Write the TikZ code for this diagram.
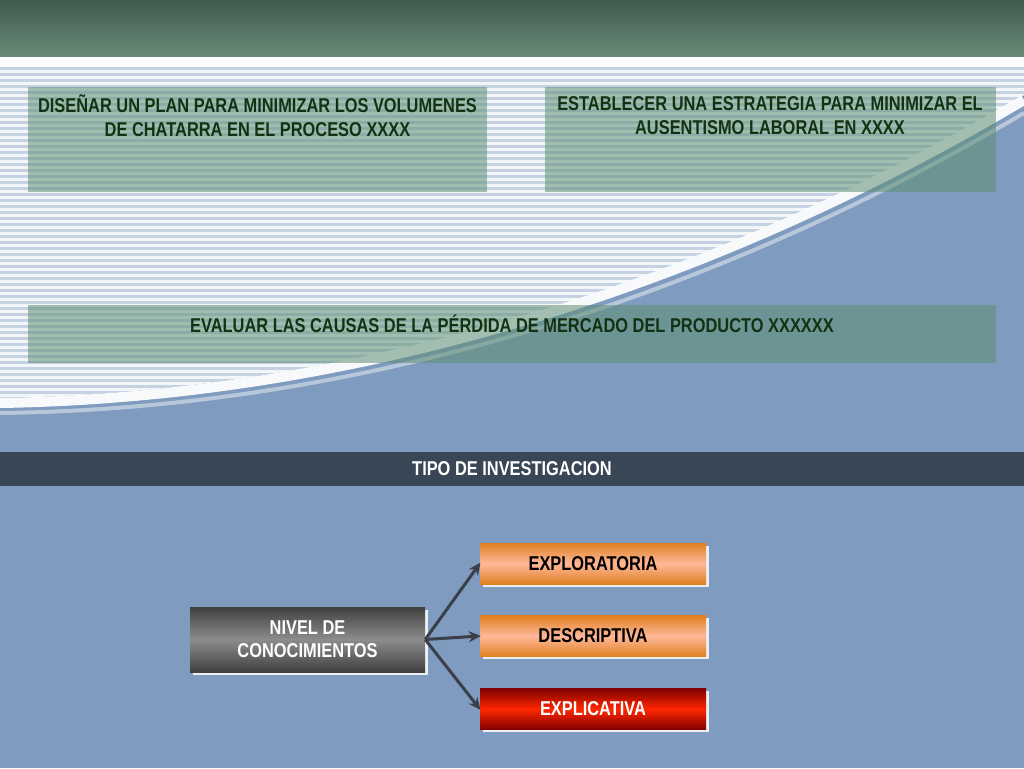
\documentclass[tikz,border=0pt]{standalone}
\usepackage{fontspec}
\setmainfont{Liberation Sans}[FakeStretch=0.82]
\usetikzlibrary{arrows.meta}
\definecolor{bg}{HTML}{7F9BBF}
\definecolor{gtxt}{HTML}{123212}
\definecolor{gb}{HTML}{5E8F73}
\definecolor{arrc}{HTML}{3A3F48}
\definecolor{topa}{HTML}{3F5A4E}
\definecolor{topb}{HTML}{6B8B78}
\tikzset{
 gbox/.style={fill=gb, fill opacity=0.55, draw=none},
 gtext/.style={text=gtxt, font=\bfseries\fontsize{20}{24}\selectfont, align=center, text opacity=1},
 obox/.style={minimum width=226pt, minimum height=41pt, inner sep=0pt, font=\bfseries\fontsize{20}{23}\selectfont},
 arr/.style={-{Stealth[length=12pt,width=11pt]}, line width=3pt, draw=arrc, shorten >=-1pt}
}
\begin{document}
\begin{tikzpicture}[x=1pt,y=-1pt]
\useasboundingbox (0,0) rectangle (1024,768);
\fill[bg] (0,0) rectangle (1024,768);
\shade[top color=topa, bottom color=topb] (0,0) rectangle (1024,57);
\fill[white] (0,57) rectangle (1024,67);
% striped region
\begin{scope}
\clip (0,67) -- (1024,67) -- (1024,95) .. controls (880,180) and (500,390) .. (0,398) -- cycle;
\fill[white!55!bg] (0,67) rectangle (1024,400);
\foreach \y in {70,76,...,400} \fill[white,opacity=0.8] (0,\y) rectangle (1024,\y+2.5);
\end{scope}
\draw[white, line width=10pt, opacity=0.95] (1024,100) .. controls (880,185) and (500,395) .. (0,403);
\draw[white, line width=4pt, opacity=0.45] (1024,113) .. controls (880,198) and (500,407) .. (0,413);
% green boxes
\fill[gbox] (28,87) rectangle (487,192);
\fill[gbox] (545,87) rectangle (996,192);
\fill[gbox] (28,305) rectangle (996,363);
\node[gtext] (t1) at (257.5,116) {DISEÑAR UN PLAN PARA MINIMIZAR LOS VOLUMENES\\DE CHATARRA EN EL PROCESO XXXX};
\node[gtext] (t2) at (770,116) {ESTABLECER UNA ESTRATEGIA PARA MINIMIZAR EL\\AUSENTISMO LABORAL EN XXXX};
\node[gtext] (t3) at (512,324) {EVALUAR LAS CAUSAS DE LA PÉRDIDA DE MERCADO DEL PRODUCTO XXXXXX};
% band
\fill[black!55!bg] (0,452) rectangle (1024,486);
\node[text=white, font=\bfseries\fontsize{20}{23}\selectfont] (band) at (512,469) {TIPO DE INVESTIGACION};
% shadows
\fill[white!85!bg] (193,610) rectangle (428,675);
\foreach \y in {546,618,691} \fill[white!85!bg] (483,\y) rectangle (709,\y+41);
\node[obox, minimum width=235pt, minimum height=65pt, text=white, align=center, top color=black!75, bottom color=black!75, middle color=black!45] (n) at (307.5,639.5) {NIVEL DE\\CONOCIMIENTOS};
\node[obox, top color=orange!50!brown, bottom color=orange!50!brown, middle color=orange!60!red!40!white] (e1) at (593,563.5) {EXPLORATORIA};
\node[obox, top color=orange!50!brown, bottom color=orange!50!brown, middle color=orange!60!red!40!white] (e2) at (593,636) {DESCRIPTIVA};
\node[obox, text=white, top color=red!50!black, bottom color=red!50!black, middle color=red!70!orange] (e3) at (593,709) {EXPLICATIVA};
\draw[arr] (n.east) -- (e1.west);
\draw[arr] (n.east) -- (e2.west);
\draw[arr] (n.east) -- (e3.west);
\end{tikzpicture}
\end{document}
